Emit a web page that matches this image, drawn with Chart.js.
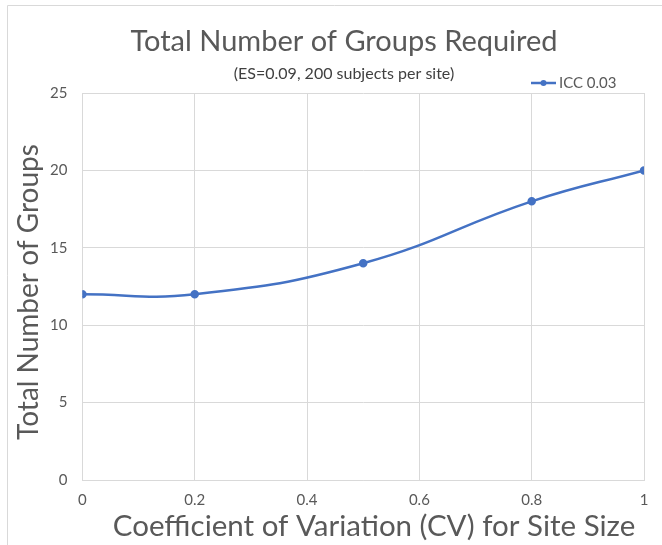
<!DOCTYPE html>
<html>
<head>
<meta charset="utf-8">
<script src="https://cdn.jsdelivr.net/npm/chart.js@4"></script>
<style>
html,body{margin:0;padding:0;background:#fff;}
#wrap{position:absolute;left:0;top:0;width:662px;height:545px;}
</style>
</head>
<body>
<div id="wrap"><canvas id="c" width="662" height="545"></canvas></div>
<script>
const cvValues = [0, 0.2, 0.5, 0.8, 1];
const groupCounts = [12, 12, 14, 18, 20];
const seriesLabel = 'ICC 0.03';
const titleText = 'Total Number of Groups Required';
const subtitleText = '(ES=0.09, 200 subjects per site)';
const xTitle = 'Coefficient of Variation (CV) for Site Size';
const yTitle = 'Total Number of Groups';

const FONT = 'Lato, "Open Sans", sans-serif';
const GREY = '#595959';
const BLUE = '#4472C4';

const framePlugin = {
  id: 'frame',
  beforeDraw(chart) {
    const ctx = chart.ctx;
    ctx.save();
    ctx.strokeStyle = '#d9d9d9';
    ctx.lineWidth = 1;
    ctx.beginPath();
    ctx.moveTo(7.5, 545);
    ctx.lineTo(7.5, 5.5);
    ctx.lineTo(662, 5.5);
    ctx.stroke();
    ctx.restore();
  },
  afterDraw(chart) {
    const ctx = chart.ctx;
    ctx.save();
    ctx.textBaseline = 'middle';
    ctx.textAlign = 'center';
    ctx.fillStyle = GREY;
    ctx.font = '29px ' + FONT;
    ctx.fillText(titleText, 344, 42);
    ctx.fillStyle = '#404040';
    ctx.font = '16px ' + FONT;
    ctx.fillText(subtitleText, 344, 74);
    // axis titles
    ctx.fillStyle = GREY;
    ctx.font = '29.5px ' + FONT;
    ctx.fillText(xTitle, 374, 526);
    ctx.save();
    ctx.translate(29, 292);
    ctx.rotate(-Math.PI / 2);
    ctx.font = '28px ' + FONT;
    ctx.fillText(yTitle, 0, 0);
    ctx.restore();
    // legend
    const ds = chart.data.datasets[0];
    const lx = 531, ly = 83;
    ctx.strokeStyle = BLUE;
    ctx.lineWidth = 2.5;
    ctx.beginPath();
    ctx.moveTo(lx, ly);
    ctx.lineTo(lx + 25, ly);
    ctx.stroke();
    ctx.fillStyle = BLUE;
    ctx.beginPath();
    ctx.arc(lx + 12.5, ly, 3, 0, Math.PI * 2);
    ctx.fill();
    ctx.fillStyle = GREY;
    ctx.font = '15px ' + FONT;
    ctx.textAlign = 'left';
    ctx.fillText(ds.label, lx + 28, ly);
    ctx.restore();
  }
};

new Chart(document.getElementById('c'), {
  type: 'line',
  data: {
    datasets: [{
      label: seriesLabel,
      data: cvValues.map((x, i) => ({x: x, y: groupCounts[i]})),
      borderColor: BLUE,
      backgroundColor: BLUE,
      borderWidth: 2.5,
      pointRadius: 3,
      pointHoverRadius: 3,
      tension: 0.45,
      fill: false
    }]
  },
  plugins: [framePlugin],
  options: {
    responsive: false,
    animation: false,
    layout: {padding: {left: 35, right: 18, top: 93, bottom: 25}},
    plugins: {
      legend: {display: false},
      tooltip: {enabled: false},
      title: {display: false},
      subtitle: {display: false}
    },
    scales: {
      x: {
        type: 'linear',
        min: 0, max: 1,
        ticks: {stepSize: 0.2, color: GREY, font: {family: FONT, size: 15}, padding: 11,
          callback: v => String(Math.round(v * 10) / 10)},
        grid: {color: '#d9d9d9', drawTicks: false},
        border: {color: '#d9d9d9'},
        title: {display: false}
      },
      y: {
        min: 0, max: 25,
        ticks: {stepSize: 5, color: GREY, font: {family: FONT, size: 15}, padding: 15},
        grid: {color: '#d9d9d9', drawTicks: false},
        border: {color: '#d9d9d9'},
        title: {display: false}
      }
    }
  }
});
</script>
</body>
</html>
